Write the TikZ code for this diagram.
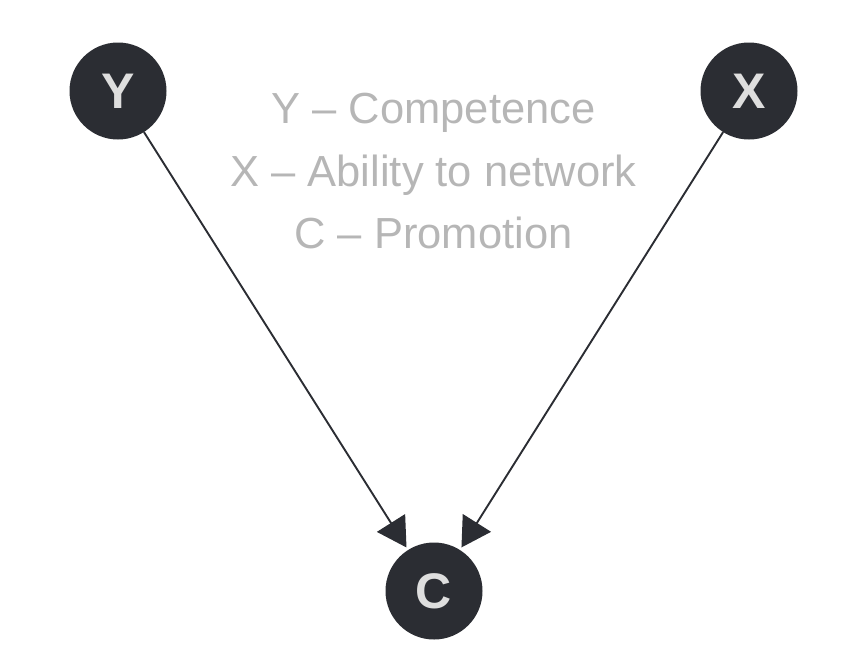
\documentclass[tikz,border=0pt]{standalone}
\usepackage{fontspec}
\setmainfont{Liberation Sans}
\usetikzlibrary{arrows.meta}
\definecolor{nodedark}{RGB}{43,45,51}
\definecolor{lettergray}{RGB}{222,222,222}
\definecolor{legendgray}{RGB}{182,182,182}
\tikzset{
  varnode/.style={circle, fill=nodedark, draw=none, minimum size=97pt, inner sep=0pt, outer sep=0pt,
    text=lettergray, font=\fontsize{50}{50}\selectfont\bfseries},
  edge/.style={draw=nodedark, line width=1.9pt, -{Triangle[length=29pt,width=33pt]}, shorten >=3pt},
  legend/.style={text=legendgray, font=\fontsize{43.5}{43.5}\selectfont, anchor=base, inner sep=0pt}
}
\begin{document}
\begin{tikzpicture}[x=1pt,y=-1pt]
\useasboundingbox (0,0) rectangle (856,654);
\node[varnode] (Y) at (118,91) {Y};
\node[varnode] (X) at (749,91) {X};
\node[varnode] (C) at (434,591) {C};
\draw[edge] (Y) -- (C);
\draw[edge] (X) -- (C);
\node[legend] (l1) at (433.5,123) {Y – Competence};
\node[legend] (l2) at (433.5,186) {X – Ability to network};
\node[legend] (l3) at (433.5,248) {C – Promotion};
\end{tikzpicture}
\end{document}
